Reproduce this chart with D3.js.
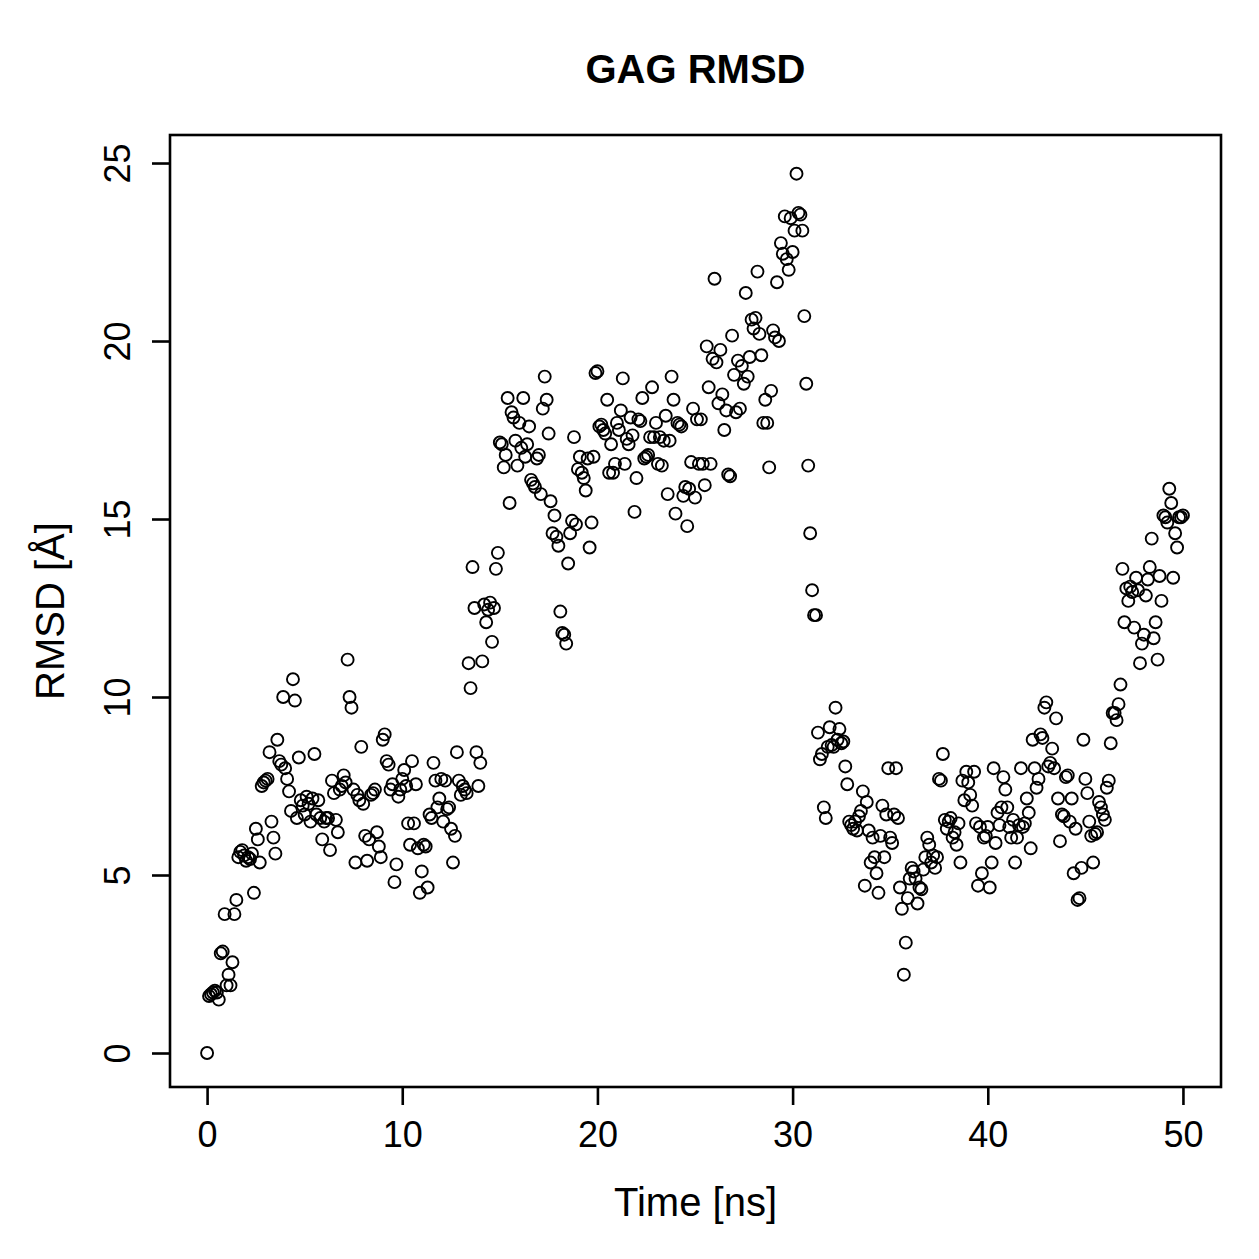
<!DOCTYPE html>
<html>
<head>
<meta charset="utf-8">
<script src="https://cdn.jsdelivr.net/npm/d3@7"></script>
<style>
  body { margin: 0; background: #fff; }
</style>
</head>
<body>
<script>
var width = 1259, height = 1259;
var box = { left: 170, right: 1221, top: 135, bottom: 1087 };

// RMSD [Å], one sample every 0.1 ns from 0 to 50 ns
var timeStep = 0.1;
var rmsd = [
  0.0, 1.6, 1.65, 1.7, 1.75, 1.7, 1.5, 2.8, 2.85, 3.9,
  1.9, 2.2, 1.9, 2.55, 3.9, 4.3, 5.5, 5.65, 5.7, 5.55,
  5.4, 5.5, 5.45, 5.6, 4.5, 6.3, 6.0, 5.35, 7.5, 7.6,
  7.65, 7.7, 8.45, 6.5, 6.05, 5.6, 8.8, 8.2, 8.1, 10.0,
  8.0, 7.7, 7.35, 6.8, 10.5, 9.9, 6.6, 8.3, 7.1, 6.95,
  6.7, 7.2, 7.0, 6.5, 7.15, 8.4, 6.7, 7.1, 6.6, 6.0,
  6.5, 6.6, 6.6, 5.7, 7.65, 7.3, 6.55, 6.2, 7.4, 7.5,
  7.8, 7.6, 11.05, 10.0, 9.7, 7.4, 5.35, 7.25, 7.1, 8.6,
  7.0, 6.1, 5.4, 6.0, 7.25, 7.3, 7.4, 6.2, 5.8, 5.5,
  8.8, 8.95, 8.2, 8.1, 7.4, 7.55, 4.8, 5.3, 7.2, 7.4,
  7.7, 7.95, 7.5, 6.45, 5.85, 8.2, 6.45, 7.55, 5.75, 4.5,
  5.1, 5.85, 5.8, 4.65, 6.7, 6.6, 8.15, 7.65, 6.9, 7.15,
  7.7, 6.5, 7.65, 6.85, 6.9, 6.3, 5.35, 6.1, 8.45, 7.65,
  7.25, 7.5, 7.4, 7.3, 10.95, 10.25, 13.65, 12.5, 8.45, 7.5,
  8.15, 11.0, 12.6, 12.1, 12.45, 12.65, 11.55, 12.5, 13.6, 14.05,
  17.15, 17.1, 16.45, 16.8, 18.4, 15.45, 18.0, 17.85, 17.2, 16.5,
  17.7, 17.0, 18.4, 16.75, 17.1, 17.6, 16.1, 16.0, 15.9, 16.7,
  16.8, 15.7, 18.1, 19.0, 18.35, 17.4, 15.5, 14.6, 15.1, 14.5,
  14.25, 12.4, 11.8, 11.75, 11.5, 13.75, 14.6, 14.95, 17.3, 14.85,
  16.4, 16.75, 16.3, 16.15, 15.8, 16.7, 14.2, 14.9, 16.75, 19.1,
  19.15, 17.6, 17.65, 17.5, 17.4, 18.35, 16.3, 17.1, 16.3, 16.55,
  17.7, 17.5, 18.05, 18.95, 16.55, 17.25, 17.1, 17.85, 17.35, 15.2,
  16.15, 17.8, 17.75, 18.4, 16.7, 16.75, 16.8, 17.3, 18.7, 17.3,
  17.7, 16.55, 17.3, 16.5, 17.2, 17.9, 15.7, 17.2, 19.0, 18.35,
  15.15, 17.7, 17.65, 17.6, 15.65, 15.9, 14.8, 15.85, 16.6, 18.1,
  15.6, 17.8, 16.55, 17.8, 16.55, 15.95, 19.85, 18.7, 16.55, 19.5,
  21.75, 19.4, 18.25, 19.75, 18.5, 17.5, 18.05, 16.25, 16.2, 20.15,
  19.05, 18.0, 19.45, 18.1, 19.3, 18.8, 21.35, 19.0, 19.55, 20.6,
  20.35, 20.65, 21.95, 20.2, 19.6, 17.7, 18.35, 17.7, 16.45, 18.6,
  20.3, 20.1, 21.65, 20.0, 22.75, 22.45, 23.5, 22.3, 22.0, 23.45,
  22.5, 23.1, 24.7, 23.6, 23.55, 23.1, 20.7, 18.8, 16.5, 14.6,
  13.0, 12.3, 12.3, 9.0, 8.25, 8.4, 6.9, 6.6, 8.6, 9.15,
  8.65, 8.6, 9.7, 8.8, 9.1, 8.7, 8.75, 8.05, 7.55, 6.5,
  6.4, 6.3, 6.5, 6.25, 6.65, 6.8, 7.35, 4.7, 7.05, 6.25,
  5.35, 6.05, 5.5, 5.05, 4.5, 6.1, 6.95, 5.5, 6.7, 8.0,
  6.05, 5.9, 6.7, 8.0, 6.6, 4.65, 4.05, 2.2, 3.1, 4.35,
  4.9, 5.2, 5.1, 4.9, 4.2, 4.65, 4.6, 5.15, 5.5, 6.05,
  5.85, 5.35, 5.55, 5.2, 5.5, 7.7, 7.65, 8.4, 6.55, 6.3,
  6.5, 6.6, 6.05, 6.2, 5.85, 6.45, 5.35, 7.65, 7.1, 7.9,
  7.6, 7.25, 6.95, 7.9, 6.45, 4.7, 6.35, 5.05, 6.05, 6.1,
  6.35, 4.65, 5.35, 8.0, 5.9, 6.75, 6.4, 6.9, 7.75, 7.4,
  6.9, 6.35, 6.05, 6.55, 5.35, 6.05, 6.4, 8.0, 6.35, 6.45,
  7.15, 6.75, 5.75, 8.8, 8.0, 7.45, 7.7, 8.95, 8.85, 9.7,
  9.85, 8.05, 8.15, 8.55, 8.0, 9.4, 7.15, 5.95, 6.7, 6.65,
  7.75, 7.8, 6.5, 7.15, 5.05, 6.3, 4.3, 4.35, 5.2, 8.8,
  7.7, 7.3, 6.5, 6.1, 5.35, 6.15, 6.2, 7.05, 6.9, 6.7,
  6.55, 7.45, 7.65, 8.7, 9.55, 9.55, 9.35, 9.8, 10.35, 13.6,
  12.1, 13.05, 12.7, 13.1, 12.95, 11.95, 13.35, 13.0, 10.95, 11.5,
  11.75, 12.85, 13.3, 13.65, 14.45, 11.65, 12.1, 11.05, 13.4, 12.7,
  15.1, 15.05, 14.9, 15.85, 15.45, 13.35, 14.6, 14.2, 15.05, 15.05,
  15.1
];
var xTicks = [0, 10, 20, 30, 40, 50];
var yTicks = [0, 5, 10, 15, 20, 25];

var points = rmsd.map(function (v, i) { return { t: i * timeStep, r: v }; });

var font = '"Liberation Sans", Arial, Helvetica, sans-serif';

var svg = d3.select('body')
            .append('svg')
            .attr('width', width)
            .attr('height', height)
            .style('font-family', font);

// scales set so that 0..50 ns and 0..25 Å land where R placed them
var x = d3.scaleLinear().domain([-1.9, 51.95]).range([box.left, box.right]);
var y = d3.scaleLinear().domain([-0.955, 25.787]).range([box.bottom, box.top]);

// points (pch = 1)
svg.append('g')
   .selectAll('circle')
   .data(points)
   .enter()
   .append('circle')
   .attr('cx', function (d) { return x(d.t); })
   .attr('cy', function (d) { return y(d.r); })
   .attr('r', 6)
   .attr('fill', 'none')
   .attr('stroke', '#000')
   .attr('stroke-width', 1.9);

// x axis
var xAxis = d3.axisBottom(x).tickValues(xTicks).tickSize(18).tickPadding(16).tickFormat(d3.format('d'));
var gx = svg.append('g')
            .attr('transform', 'translate(0,' + box.bottom + ')')
            .call(xAxis);
gx.select('.domain').remove();
gx.selectAll('line').attr('stroke', '#000').attr('stroke-width', 2.6);
gx.selectAll('text')
  .attr('fill', '#000')
  .style('font-size', '36px')
  .style('font-family', font);

// y axis, labels turned like R's las = 0
var yAxis = d3.axisLeft(y).tickValues(yTicks).tickSize(18).tickFormat(d3.format('d'));
var gy = svg.append('g')
            .attr('transform', 'translate(' + box.left + ',0)')
            .call(yAxis);
gy.select('.domain').remove();
gy.selectAll('line').attr('stroke', '#000').attr('stroke-width', 2.6);
gy.selectAll('text')
  .attr('fill', '#000')
  .attr('x', 0)
  .attr('y', -40)
  .attr('dy', 0)
  .attr('transform', 'rotate(-90)')
  .attr('text-anchor', 'middle')
  .style('font-size', '36px')
  .style('font-family', font);

// plot box
svg.append('rect')
   .attr('x', box.left)
   .attr('y', box.top)
   .attr('width', box.right - box.left)
   .attr('height', box.bottom - box.top)
   .attr('fill', 'none')
   .attr('stroke', '#000')
   .attr('stroke-width', 2.6);

// title and axis labels
svg.append('text')
   .attr('x', (box.left + box.right) / 2)
   .attr('y', 83)
   .attr('text-anchor', 'middle')
   .style('font-size', '40px')
   .style('font-weight', 'bold')
   .text('GAG RMSD');

svg.append('text')
   .attr('x', (box.left + box.right) / 2)
   .attr('y', 1216)
   .attr('text-anchor', 'middle')
   .style('font-size', '40px')
   .text('Time [ns]');

svg.append('text')
   .attr('transform', 'translate(64,' + ((box.top + box.bottom) / 2) + ') rotate(-90)')
   .attr('text-anchor', 'middle')
   .style('font-size', '40px')
   .text('RMSD [Å]');
</script>
</body>
</html>
